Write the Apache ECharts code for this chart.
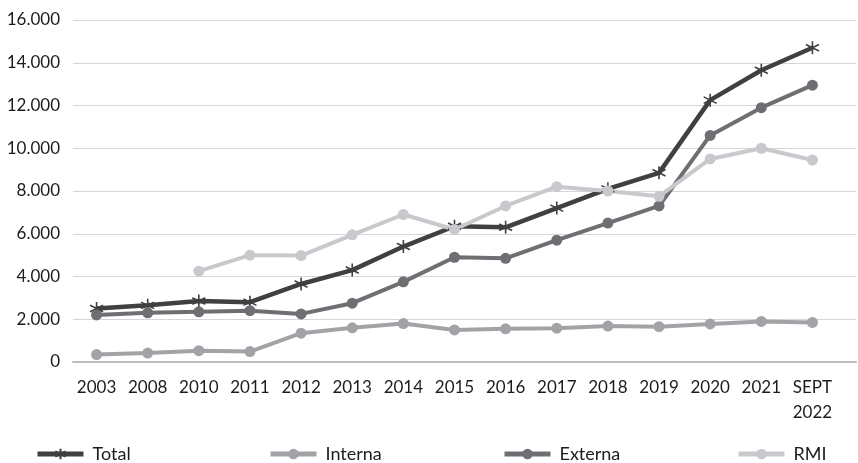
<!DOCTYPE html>
<html>
<head>
<meta charset="utf-8">
<script src="https://cdn.jsdelivr.net/npm/echarts@6/dist/echarts.min.js"></script>
<style>
  html, body { margin: 0; padding: 0; background: #fff; }
  #chart { width: 858px; height: 463px; }
</style>
</head>
<body>
<div id="chart"></div>
<script>
// Categories (years) and the four series
const categories = ['2003', '2008', '2010', '2011', '2012', '2013', '2014', '2015', '2016', '2017', '2018', '2019', '2020', '2021', 'SEPT\n2022'];
const total   = [2500, 2650, 2850, 2800, 3650, 4300, 5400, 6350, 6300, 7200, 8100, 8850, 12250, 13650, 14700];
const interna = [350, 420, 530, 490, 1350, 1600, 1800, 1500, 1550, 1580, 1680, 1650, 1780, 1900, 1850];
const externa = [2200, 2300, 2350, 2400, 2250, 2750, 3750, 4900, 4850, 5700, 6500, 7300, 10600, 11900, 12950];
const rmi     = [null, null, 4250, 5000, 4980, 5950, 6900, 6200, 7300, 8200, 8000, 7750, 9500, 10000, 9450];
const yTicks  = { min: 0, max: 16000, interval: 2000 };

const FONT = 'Lato, "Open Sans", sans-serif';
const TEXT = '#1c1c1c';
const C_TOTAL = '#404040', C_INT = '#a3a2a7', C_EXT = '#6f6e73', C_RMI = '#c9c8cd';

// asterisk marker: vertical stroke plus two diagonals
const STAR = 'path://M10,0L10,20M1.34,5L18.66,15M1.34,15L18.66,5';

const fmt = v => String(v).replace(/\B(?=(\d{3})+(?!\d))/g, '.');

const chart = echarts.init(document.getElementById('chart'), null, { renderer: 'canvas' });

function legendAt(name, left) {
  return {
    data: [name], left: left, top: 440,
    itemWidth: 46, itemHeight: 13, itemGap: 0,
    lineStyle: { width: 5 },
    textStyle: { fontFamily: FONT, fontSize: 18, color: TEXT, padding: [0, 0, 0, 4] }
  };
}

chart.setOption({
  animation: false,
  grid: [
    // background grid: horizontal rules and the baseline
    { left: 73, right: 2, top: 20, bottom: 101 },
    // data grid
    { left: 71, right: 20, top: 20, bottom: 101 }
  ],
  xAxis: [
    { gridIndex: 0, type: 'value', min: 0, max: 1,
      axisLine: { show: true, lineStyle: { color: '#bdbcc2', width: 2 } },
      axisTick: { show: false }, axisLabel: { show: false }, splitLine: { show: false } },
    { gridIndex: 1, type: 'category', data: categories, boundaryGap: true,
      axisLine: { show: false }, axisTick: { show: false },
      axisLabel: { interval: 0, margin: 13, fontFamily: FONT, fontSize: 17, color: TEXT, lineHeight: 25 } }
  ],
  yAxis: [
    { gridIndex: 0, type: 'value', min: yTicks.min, max: yTicks.max, interval: yTicks.interval,
      axisLine: { show: false }, axisTick: { show: false }, axisLabel: { show: false },
      splitLine: { lineStyle: { color: '#d6d5dc', width: 1 } } },
    { gridIndex: 1, type: 'value', min: yTicks.min, max: yTicks.max, interval: yTicks.interval,
      axisLine: { show: false }, axisTick: { show: false }, splitLine: { show: false },
      axisLabel: { margin: 11, fontFamily: FONT, fontSize: 17, color: TEXT, formatter: fmt } }
  ],
  legend: [
    legendAt('Total', 30),
    legendAt('Interna', 263),
    legendAt('Externa', 497),
    legendAt('RMI', 731)
  ],
  series: [
    { name: 'Total', type: 'line', xAxisIndex: 1, yAxisIndex: 1, data: total,
      symbol: STAR, symbolSize: 13, showAllSymbol: true,
      lineStyle: { color: C_TOTAL, width: 4.5 },
      itemStyle: { color: C_TOTAL, borderColor: C_TOTAL, borderWidth: 1.6 } },
    { name: 'Interna', type: 'line', xAxisIndex: 1, yAxisIndex: 1, data: interna,
      symbol: 'circle', symbolSize: 11, showAllSymbol: true,
      lineStyle: { color: C_INT, width: 4 }, itemStyle: { color: C_INT } },
    { name: 'Externa', type: 'line', xAxisIndex: 1, yAxisIndex: 1, data: externa,
      symbol: 'circle', symbolSize: 11, showAllSymbol: true,
      lineStyle: { color: C_EXT, width: 4 }, itemStyle: { color: C_EXT } },
    { name: 'RMI', type: 'line', xAxisIndex: 1, yAxisIndex: 1, data: rmi,
      symbol: 'circle', symbolSize: 11, showAllSymbol: true,
      lineStyle: { color: C_RMI, width: 4 }, itemStyle: { color: C_RMI } }
  ]
});
</script>
</body>
</html>
